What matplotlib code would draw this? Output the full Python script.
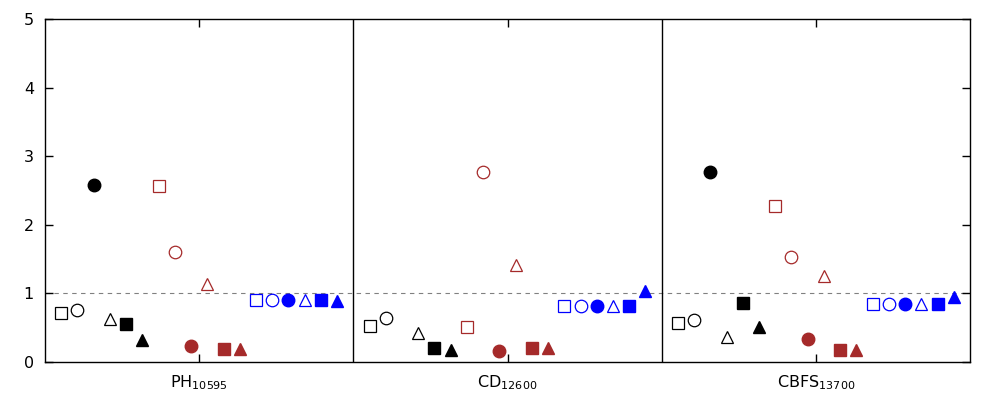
import numpy as np
import matplotlib
matplotlib.use('Agg')
import matplotlib.pyplot as plt

groups = ['PH$_{10595}$', 'CD$_{12600}$', 'CBFS$_{13700}$']

# per group: open square, open circle, filled circle, open triangle, filled square, filled triangle
black = [[0.72, 0.76, 2.58, 0.63, 0.55, 0.32],
         [0.52, 0.64, np.nan, 0.43, 0.21, 0.17],
         [0.57, 0.61, 2.77, 0.36, 0.86, 0.51]]
brown = [[2.56, 1.60, 0.23, 1.13, 0.19, 0.19],
         [0.51, 2.77, 0.16, 1.41, 0.20, 0.21],
         [2.28, 1.53, 0.33, 1.26, 0.17, 0.17]]
blue = [[0.90, 0.90, 0.90, 0.90, 0.90, 0.89],
        [0.81, 0.81, 0.81, 0.81, 0.81, 1.03],
        [0.84, 0.84, 0.84, 0.84, 0.84, 0.95]]

markers = ['s', 'o', 'o', '^', 's', '^']
filled = [False, False, True, False, True, True]
colours = ['black', '#a52a2a', 'blue']

fig = plt.figure(figsize=(10, 4), dpi=100)
ax = fig.add_axes([0.045, 0.095, 0.925, 0.8575])

for g in range(3):
    k = 0
    for c, data in zip(colours, [black, brown, blue]):
        for m in range(6):
            x = g + (k - 8.5) / 19.0
            y = data[g][m]
            if filled[m]:
                ax.plot(x, y, marker=markers[m], ms=9, color=c, mec=c, ls='none')
            else:
                ax.plot(x, y, marker=markers[m], ms=9, mfc='none', mec=c, mew=0.9, ls='none')
            k += 1

ax.axhline(1, color='gray', lw=0.8, ls=(0, (4, 4)), zorder=0)
ax.axvline(0.5, color='black', lw=1.0)
ax.axvline(1.5, color='black', lw=1.0)

ax.set_xlim(-0.5, 2.5)
ax.set_ylim(0, 5)
ax.set_xticks(range(3))
ax.set_xticklabels(groups)
ax.set_yticks(range(6))
ax.tick_params(direction='in', length=6, width=1, top=True, right=True, labelsize=11.5, pad=8)
for s in ax.spines.values():
    s.set_linewidth(1.0)

fig.savefig('out.png', dpi=100)
